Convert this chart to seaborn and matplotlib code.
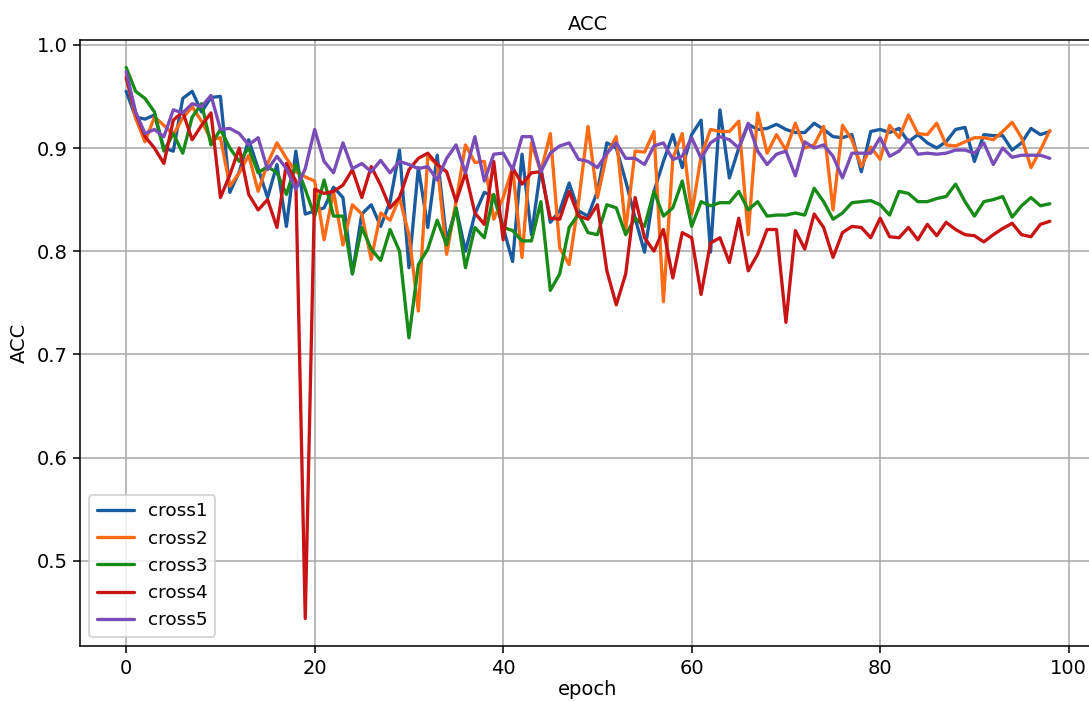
import numpy as np
import pandas as pd
import seaborn as sns
import matplotlib.pyplot as plt

# accuracy per epoch for each cross-validation fold
cross1 = [0.955, 0.93, 0.928, 0.932, 0.9, 0.897, 0.948, 0.955, 0.935, 0.949,
          0.95, 0.857, 0.877, 0.908, 0.88, 0.852, 0.884, 0.824, 0.897, 0.836,
          0.839, 0.842, 0.862, 0.852, 0.778, 0.836, 0.845, 0.824, 0.848, 0.898,
          0.784, 0.881, 0.823, 0.893, 0.81, 0.842, 0.80, 0.836, 0.857, 0.853,
          0.823, 0.79, 0.894, 0.816, 0.881, 0.828, 0.839, 0.866, 0.839, 0.834,
          0.858, 0.905, 0.9, 0.868, 0.832, 0.799, 0.858, 0.887, 0.913, 0.881,
          0.913, 0.927, 0.799, 0.937, 0.871, 0.9, 0.923, 0.918, 0.919, 0.923,
          0.918, 0.915, 0.915, 0.924, 0.918, 0.911, 0.91, 0.913, 0.877, 0.916,
          0.918, 0.915, 0.919, 0.906, 0.913, 0.905, 0.9, 0.906, 0.918, 0.92,
          0.887, 0.913, 0.912, 0.912, 0.898, 0.905, 0.919, 0.913, 0.916]
cross2 = [0.971, 0.929, 0.906, 0.93, 0.922, 0.913, 0.929, 0.94, 0.926, 0.908,
          0.91, 0.863, 0.876, 0.893, 0.858, 0.885, 0.905, 0.89, 0.877, 0.872,
          0.868, 0.811, 0.858, 0.806, 0.845, 0.836, 0.792, 0.837, 0.83, 0.852,
          0.816, 0.742, 0.892, 0.884, 0.797, 0.848, 0.903, 0.886, 0.887, 0.831,
          0.852, 0.881, 0.794, 0.905, 0.877, 0.914, 0.803, 0.787, 0.848, 0.921,
          0.852, 0.894, 0.911, 0.821, 0.897, 0.896, 0.916, 0.751, 0.89, 0.914,
          0.836, 0.892, 0.918, 0.916, 0.916, 0.926, 0.816, 0.934, 0.895, 0.913,
          0.898, 0.924, 0.9, 0.903, 0.921, 0.84, 0.922, 0.908, 0.882, 0.901,
          0.889, 0.922, 0.91, 0.932, 0.914, 0.913, 0.924, 0.903, 0.902, 0.906,
          0.91, 0.91, 0.908, 0.916, 0.925, 0.91, 0.881, 0.898, 0.917]
cross3 = [0.978, 0.955, 0.948, 0.935, 0.897, 0.914, 0.895, 0.93, 0.943, 0.903,
          0.918, 0.9, 0.887, 0.9, 0.876, 0.882, 0.876, 0.855, 0.884, 0.86,
          0.834, 0.869, 0.834, 0.834, 0.778, 0.823, 0.802, 0.791, 0.821, 0.8,
          0.716, 0.787, 0.802, 0.83, 0.806, 0.842, 0.784, 0.823, 0.813, 0.855,
          0.823, 0.82, 0.81, 0.81, 0.848, 0.762, 0.778, 0.823, 0.836, 0.818,
          0.816, 0.845, 0.842, 0.816, 0.832, 0.824, 0.858, 0.834, 0.842, 0.868,
          0.824, 0.848, 0.844, 0.847, 0.847, 0.858, 0.84, 0.848, 0.834, 0.835,
          0.835, 0.837, 0.835, 0.861, 0.848, 0.831, 0.837, 0.847, 0.848, 0.849,
          0.845, 0.835, 0.858, 0.856, 0.848, 0.848, 0.851, 0.853, 0.865, 0.848,
          0.834, 0.848, 0.85, 0.853, 0.833, 0.844, 0.852, 0.844, 0.846]
cross4 = [0.968, 0.934, 0.911, 0.9, 0.885, 0.927, 0.935, 0.908, 0.922, 0.934,
          0.852, 0.874, 0.9, 0.855, 0.84, 0.85, 0.823, 0.885, 0.868, 0.444,
          0.86, 0.856, 0.858, 0.864, 0.879, 0.852, 0.882, 0.864, 0.842, 0.852,
          0.879, 0.89, 0.895, 0.884, 0.877, 0.848, 0.876, 0.837, 0.826, 0.887,
          0.811, 0.881, 0.865, 0.876, 0.877, 0.832, 0.831, 0.858, 0.834, 0.831,
          0.845, 0.781, 0.748, 0.778, 0.852, 0.813, 0.8, 0.821, 0.774, 0.818,
          0.813, 0.758, 0.808, 0.813, 0.789, 0.832, 0.781, 0.797, 0.821, 0.821,
          0.731, 0.82, 0.802, 0.836, 0.823, 0.794, 0.818, 0.824, 0.823, 0.813,
          0.832, 0.814, 0.813, 0.823, 0.811, 0.826, 0.815, 0.828, 0.821, 0.816,
          0.815, 0.809, 0.816, 0.822, 0.827, 0.816, 0.814, 0.826, 0.829]
cross5 = [0.974, 0.935, 0.914, 0.918, 0.911, 0.937, 0.934, 0.943, 0.94, 0.951,
          0.918, 0.919, 0.914, 0.903, 0.91, 0.879, 0.892, 0.88, 0.86, 0.88,
          0.918, 0.887, 0.876, 0.905, 0.88, 0.885, 0.877, 0.888, 0.876, 0.887,
          0.884, 0.88, 0.882, 0.869, 0.89, 0.903, 0.876, 0.911, 0.868, 0.894,
          0.895, 0.879, 0.911, 0.911, 0.877, 0.895, 0.902, 0.905, 0.889, 0.887,
          0.881, 0.895, 0.905, 0.89, 0.89, 0.884, 0.902, 0.905, 0.889, 0.892,
          0.91, 0.89, 0.905, 0.911, 0.908, 0.9, 0.924, 0.897, 0.884, 0.894,
          0.897, 0.873, 0.906, 0.9, 0.903, 0.892, 0.871, 0.895, 0.895, 0.895,
          0.91, 0.892, 0.897, 0.908, 0.894, 0.895, 0.894, 0.895, 0.898, 0.898,
          0.895, 0.905, 0.884, 0.9, 0.891, 0.893, 0.893, 0.893, 0.89]

fold_names = ["cross1", "cross2", "cross3", "cross4", "cross5"]
fold_colors = ["#1a5a9e", "#ff6a14", "#178a17", "#c81414", "#7a4cb8"]

epochs = np.arange(len(cross1))
df = pd.DataFrame({"epoch": np.tile(epochs, 5),
                   "ACC": cross1 + cross2 + cross3 + cross4 + cross5,
                   "fold": np.repeat(fold_names, len(epochs))})

sns.set_style("ticks", {"axes.grid": True, "grid.color": "#b0b0b0",
                        "axes.edgecolor": "black", "text.color": "black",
                        "axes.labelcolor": "black", "xtick.color": "black",
                        "ytick.color": "black"})
plt.rcParams["font.family"] = ["DejaVu Sans"]

fig = plt.figure(figsize=(1089 / 140, 702 / 140), dpi=140)
ax = fig.add_axes([80 / 1089, 56 / 702, 1016 / 1089, 606 / 702])

sns.lineplot(data=df, x="epoch", y="ACC", hue="fold", palette=fold_colors,
             hue_order=fold_names, linewidth=1.7, ax=ax)

ax.grid(True, color="#a8a8a8", linewidth=0.8)
ax.set_title("ACC", fontsize=10, pad=5)
ax.set_xlabel("epoch", fontsize=10, labelpad=1)
ax.set_ylabel("ACC", fontsize=10)
ax.tick_params(labelsize=10, color="black", length=3.5, pad=3)
ax.margins(x=0.05, y=0.05)
ax.legend(loc="lower left", fontsize=9.5, title=None, framealpha=0.8)

fig.savefig("out.png", dpi=140)
